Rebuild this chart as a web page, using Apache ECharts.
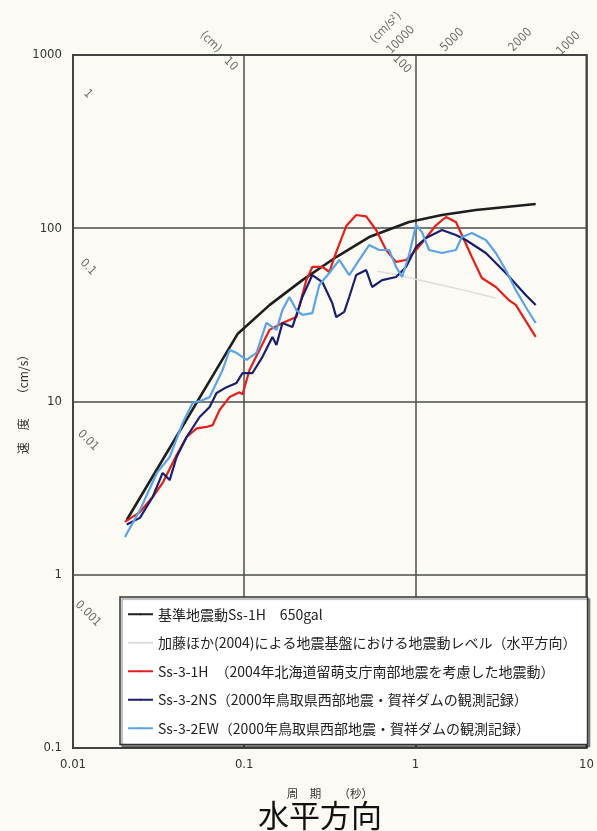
<!DOCTYPE html>
<html>
<head>
<meta charset="utf-8">
<script src="https://cdn.jsdelivr.net/npm/echarts/dist/echarts.min.js"></script>
<style>
  html, body { margin: 0; padding: 0; background: #fbfaf5; }
  #chart { width: 597px; height: 831px; }
</style>
</head>
<body>
<div id="chart"></div>
<script>
// Pseudo-velocity response spectra (horizontal), period [s] vs velocity [cm/s]

const seriesNames = [
  '基準地震動Ss-1H　650gal',
  '加藤ほか(2004)による地震基盤における地震動レベル（水平方向）',
  'Ss-3-1H　（2004年北海道留萌支庁南部地震を考慮した地震動）',
  'Ss-3-2NS（2000年鳥取県西部地震・賀祥ダムの観測記録）',
  'Ss-3-2EW（2000年鳥取県西部地震・賀祥ダムの観測記録）'
];
const seriesColors = ['#1e1e1e', '#dcdcdc', '#e3201b', '#1b1f6b', '#5ca3e3'];
const seriesWidths = [2.6, 1.5, 2.2, 2.2, 2.2];

// [period (s), velocity (cm/s)]
const ss1H = [
  [0.0206, 2.07], [0.0914, 24.5], [0.1405, 36.0], [0.2187, 50.2], [0.3449, 68.2],
  [0.5372, 89.0], [0.9185, 108.7], [1.430, 119.3], [2.256, 127.4], [5.045, 138]
];
const katoLevel = [
  [0.60, 56.5], [0.75, 54.5], [1.05, 50.2], [2.0, 43.5], [2.94, 39.6]
];
const ss31H = [
  [0.0201, 2.02], [0.0246, 2.30], [0.0292, 2.81], [0.0334, 3.39], [0.0403, 4.91],
  [0.0461, 6.24], [0.0528, 7.0], [0.0603, 7.13], [0.0654, 7.3], [0.0718, 8.93],
  [0.0821, 10.6], [0.0939, 11.3], [0.0978, 11.0], [0.1074, 15.2], [0.1228, 19.8],
  [0.1405, 25.9], [0.1673, 28.4], [0.2017, 30.7], [0.2307, 50.2], [0.250, 59.8],
  [0.286, 59.8], [0.3142, 55.9], [0.3449, 72.9], [0.3946, 103], [0.4511, 119.3],
  [0.516, 117], [0.590, 97.7], [0.6747, 74.9], [0.7713, 63.9], [0.8822, 65.6],
  [1.009, 74.9], [1.154, 87.8], [1.319, 104], [1.509, 116.1], [1.725, 108.7],
  [1.870, 91.4], [2.138, 68.2], [2.445, 51.6], [2.951, 45.8], [3.512, 38.5],
  [3.858, 36.1], [5.045, 23.6]
];
const ss32NS = [
  [0.0206, 1.95], [0.0246, 2.13], [0.0292, 2.81], [0.0334, 3.87], [0.0367, 3.52],
  [0.0403, 4.78], [0.0461, 6.24], [0.0549, 8.14], [0.0628, 9.3], [0.0690, 11.2],
  [0.0789, 12.1], [0.0902, 12.8], [0.0978, 14.6], [0.1118, 14.6], [0.1279, 18.1],
  [0.1462, 23.6], [0.1543, 21.2], [0.1673, 28.4], [0.1912, 26.9], [0.2187, 40.1],
  [0.250, 53.7], [0.286, 48.9], [0.3269, 37.0], [0.3449, 30.7], [0.3842, 32.9],
  [0.4108, 40.1], [0.4511, 53.7], [0.516, 57.4], [0.5593, 45.8], [0.6395, 50.2],
  [0.7713, 52.3], [0.8822, 59.8], [1.009, 78.0], [1.154, 87.8], [1.430, 97.7],
  [1.725, 91.4], [1.973, 85.5], [2.580, 72.0], [3.374, 55.2], [4.412, 41.2],
  [5.045, 36.1]
];
const ss32EW = [
  [0.0201, 1.65], [0.0246, 2.36], [0.0309, 3.87], [0.0367, 4.78], [0.0437, 7.51],
  [0.0500, 9.8], [0.0572, 10.2], [0.0628, 10.6], [0.0748, 15.2], [0.0821, 19.8],
  [0.0902, 19.1], [0.1032, 17.4], [0.1180, 19.1], [0.1349, 28.4], [0.1543, 25.9],
  [0.1673, 33.7], [0.1837, 40.1], [0.2017, 33.7], [0.2187, 31.6], [0.250, 32.4],
  [0.2747, 47.0], [0.3142, 55.2], [0.3591, 65.6], [0.4108, 53.7], [0.4697, 65.6],
  [0.5372, 80.0], [0.6143, 74.9], [0.7025, 74.9], [0.7713, 59.8], [0.8361, 52.3],
  [0.9185, 70.1], [1.009, 104.4], [1.093, 95.0], [1.201, 74.9], [1.430, 72.0],
  [1.725, 74.9], [1.870, 89.0], [2.138, 93.9], [2.580, 85.5], [2.951, 72.0],
  [3.374, 57.4], [3.858, 44.0], [4.412, 35.1], [5.045, 28.4]
];

// Tripartite scale values: displacement (cm) and acceleration (cm/s²)
const dispValues = [0.001, 0.01, 0.1, 1, 10, 100];
const accelValues = [10000, 5000, 2000, 1000];

const periodTicks = [0.01, 0.1, 1, 10];
const velocityTicks = [0.1, 1, 10, 100, 1000];

const X_MIN = 0.01, X_MAX = 10, Y_MIN = 0.1, Y_MAX = 1000;
const TWO_PI = 2 * Math.PI;
const C45 = Math.SQRT1_2;

const labelFont = "'Liberation Sans Narrow', 'DejaVu Sans Condensed', 'Liberation Sans', sans-serif";
const cjkFont = "'Noto Sans CJK JP', 'Noto Sans', sans-serif";

function fmtNum(v) {
  return String(parseFloat(v.toPrecision(3)));
}

// Label offsets are applied in the rotated text frame; convert a screen shift into that frame.
function shiftDown45(dx, dy) { return [(dx + dy) * C45, (dy - dx) * C45]; }   // rotate -45
function shiftUp45(dx, dy) { return [(dx - dy) * C45, (dx + dy) * C45]; }     // rotate +45

// Displacement labels sit where each constant-displacement line enters the frame
const dispLabelData = dispValues.map(function (d) {
  const vAtLeft = TWO_PI * d / X_MIN;
  if (vAtLeft <= Y_MAX) {
    return { value: [X_MIN, vAtLeft], label: { formatter: fmtNum(d), offset: shiftDown45(15, 4), rotate: -45 } };
  }
  return { value: [TWO_PI * d / Y_MAX, Y_MAX], label: { formatter: fmtNum(d), offset: shiftDown45(21, 9), rotate: -45 } };
});
dispLabelData.push({
  value: [TWO_PI * 10 / Y_MAX, Y_MAX],
  label: { formatter: '(cm)', offset: shiftDown45(1, -13), rotate: -45 }
});

// Acceleration labels along the top edge, kept inside the frame width
const accelLabelData = accelValues.map(function (a) {
  const t = Math.min(TWO_PI * Y_MAX / a, 6.0);
  return { value: [t, a * t / TWO_PI], label: { formatter: String(a), offset: shiftUp45(20, -15), rotate: 45 } };
});
accelLabelData.push({
  value: [TWO_PI * Y_MAX / accelValues[0], Y_MAX],
  label: { formatter: '(cm/s²)', offset: shiftUp45(5, -27), rotate: 45 }
});

const lineData = [ss1H, katoLevel, ss31H, ss32NS, ss32EW];

const lineSeries = lineData.map(function (data, i) {
  return {
    name: seriesNames[i],
    type: 'line',
    data: data,
    symbol: 'none',
    legendIcon: 'rect',
    smooth: false,
    lineStyle: { color: seriesColors[i], width: seriesWidths[i] },
    itemStyle: { color: seriesColors[i] },
    z: 3 + i
  };
});

function labelSeries(data) {
  return {
    type: 'scatter',
    data: data,
    symbolSize: 1,
    itemStyle: { color: 'rgba(0,0,0,0)' },
    clip: false,
    silent: true,
    z: 10,
    label: {
      show: true,
      position: 'inside',
      color: '#4a4a4a',
      fontSize: 12,
      fontFamily: labelFont
    }
  };
}

const chart = echarts.init(document.getElementById('chart'), null, { renderer: 'canvas' });

chart.setOption({
  animation: false,
  backgroundColor: '#fbfaf5',
  grid: {
    left: 73, right: 9, top: 55, bottom: 83,
    show: true,
    borderColor: '#2a2a2a',
    borderWidth: 2,
    backgroundColor: 'transparent'
  },
  xAxis: {
    type: 'log',
    logBase: 10,
    min: X_MIN,
    max: X_MAX,
    axisLine: { show: false },
    axisTick: { show: false },
    splitLine: { show: true, lineStyle: { color: '#4d4d4d', width: 1.5 } },
    axisLabel: {
      margin: 10,
      color: '#333',
      fontSize: 13,
      fontFamily: labelFont,
      formatter: function (v) { return periodTicks.some(function (t) { return Math.abs(t - v) / t < 1e-6; }) ? fmtNum(v) : ''; }
    },
    name: '周　期　　（秒）',
    nameLocation: 'middle',
    nameGap: 40,
    nameMoveOverlap: false,
    nameTextStyle: { color: '#333', fontSize: 11.5, fontFamily: cjkFont }
  },
  yAxis: {
    type: 'log',
    logBase: 10,
    min: Y_MIN,
    max: Y_MAX,
    axisLine: { show: false },
    axisTick: { show: false },
    splitLine: { show: true, lineStyle: { color: '#4d4d4d', width: 1.5 } },
    axisLabel: {
      margin: 11,
      color: '#333',
      fontSize: 13,
      fontFamily: labelFont,
      formatter: function (v) { return velocityTicks.some(function (t) { return Math.abs(t - v) / t < 1e-6; }) ? fmtNum(v) : ''; }
    },
    name: '速　度　　（cm/s）',
    nameLocation: 'middle',
    nameGap: 44,
    nameMoveOverlap: false,
    nameTextStyle: { color: '#333', fontSize: 12, fontFamily: cjkFont }
  },
  legend: {
    data: seriesNames,
    orient: 'vertical',
    left: 120,
    top: 597,
    padding: [8, 11, 7, 7],
    itemGap: 10,
    itemWidth: 25,
    itemHeight: 2.5,
    backgroundColor: '#ffffff',
    borderColor: '#333',
    borderWidth: 1.5,
    shadowColor: 'rgba(0,0,0,0.35)',
    shadowOffsetX: 2,
    shadowOffsetY: 2,
    shadowBlur: 1,
    selectedMode: false,
    textStyle: { color: '#222', fontSize: 14, fontFamily: cjkFont, lineHeight: 18.5 }
  },
  graphic: [{
    type: 'text',
    x: 320,
    y: 815,
    style: {
      text: '水平方向',
      align: 'center',
      verticalAlign: 'middle',
      fontSize: 31,
      fontFamily: cjkFont,
      fill: '#111'
    }
  }],
  series: lineSeries.concat([labelSeries(dispLabelData), labelSeries(accelLabelData)])
});
</script>
</body>
</html>
